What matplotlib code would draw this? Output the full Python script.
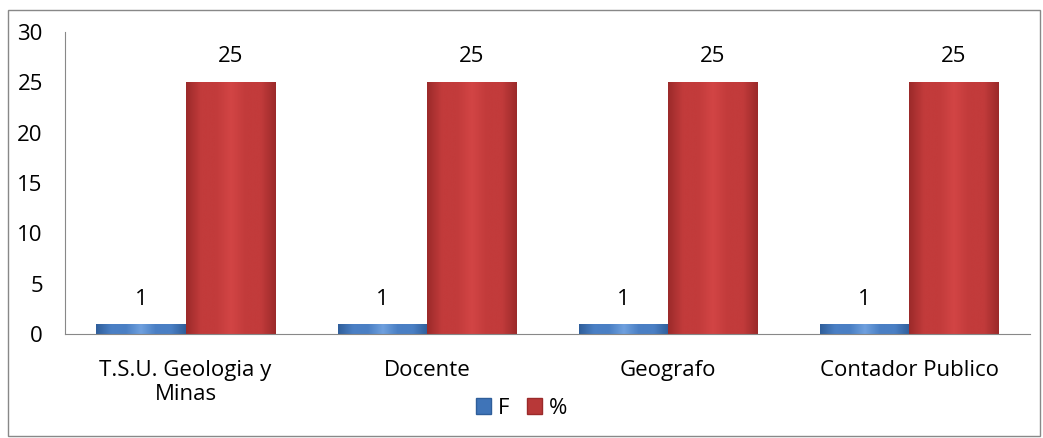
import numpy as np
import matplotlib
matplotlib.use("Agg")
import matplotlib.pyplot as plt
from matplotlib.patches import Rectangle

categories = ["T.S.U. Geologia y\nMinas", "Docente", "Geografo", "Contador Publico"]
F = [1, 1, 1, 1]
pct = [25, 25, 25, 25]

plt.rcParams['font.family'] = ['Open Sans', 'DejaVu Sans']
FS = 16

fig = plt.figure(figsize=(10.43, 4.38), dpi=100)
ax = fig.add_axes([0.0623, 0.2374, 0.925, 0.6896])

x = np.arange(len(categories))
w = 0.37

def gradient_bars(xs, vals, c_dark, c_mid, c_light):
    cmap = matplotlib.colors.LinearSegmentedColormap.from_list(
        "g", [c_dark, c_mid, c_mid, c_light, c_mid, c_mid, c_dark])
    grad = np.linspace(0, 1, 256).reshape(1, -1)
    bars = ax.bar(xs, vals, w, color=c_mid, edgecolor=c_dark, linewidth=0.6, zorder=2)
    for b in bars:
        x0, y0 = b.get_x(), b.get_y()
        im = ax.imshow(grad, cmap=cmap, aspect="auto", zorder=2.5,
                       extent=[x0, x0 + b.get_width(), y0, y0 + b.get_height()])
        im.set_clip_path(b)
    return bars

gradient_bars(x - w / 2, F, "#2f5e9a", "#4a7fc4", "#6fa0de")
gradient_bars(x + w / 2, pct, "#9b2a2a", "#c23b3b", "#d24545")

for i in range(len(categories)):
    ax.text(x[i] - w / 2, F[i] + 2.4, str(F[i]), ha="center", va="center", fontsize=FS)
    ax.text(x[i] + w / 2, pct[i] + 2.6, str(pct[i]), ha="center", va="center", fontsize=FS)

ax.set_xlim(-0.5, len(categories) - 0.5)
ax.set_ylim(0, 30)
ax.set_yticks(range(0, 31, 5))
ax.set_xticks(x)
ax.set_xticklabels(categories, fontsize=FS, linespacing=1.15)
ax.tick_params(axis="y", length=0, pad=16, labelsize=FS)
ax.tick_params(axis="x", length=0, pad=19)
for s in ["top", "right"]:
    ax.spines[s].set_visible(False)
ax.spines["left"].set_color("#888888")
ax.spines["bottom"].set_color("#888888")

h1 = Rectangle((0, 0), 1, 1, facecolor="#3f74b8", edgecolor="#2f5e9a")
h2 = Rectangle((0, 0), 1, 1, facecolor="#b83838", edgecolor="#9b2a2a")
fig.legend([h1, h2], ["F", "%"], loc="center", bbox_to_anchor=(0.5, 0.068),
           ncol=2, frameon=False, fontsize=FS, handlelength=0.7, handleheight=0.7,
           handletextpad=0.3, columnspacing=0.8)

fig.patches.append(Rectangle((8 / 1043, 2 / 438), 1032 / 1043, 426 / 438,
                             transform=fig.transFigure, fill=False,
                             edgecolor="#888888", linewidth=1))

fig.savefig("out.png", dpi=100)
